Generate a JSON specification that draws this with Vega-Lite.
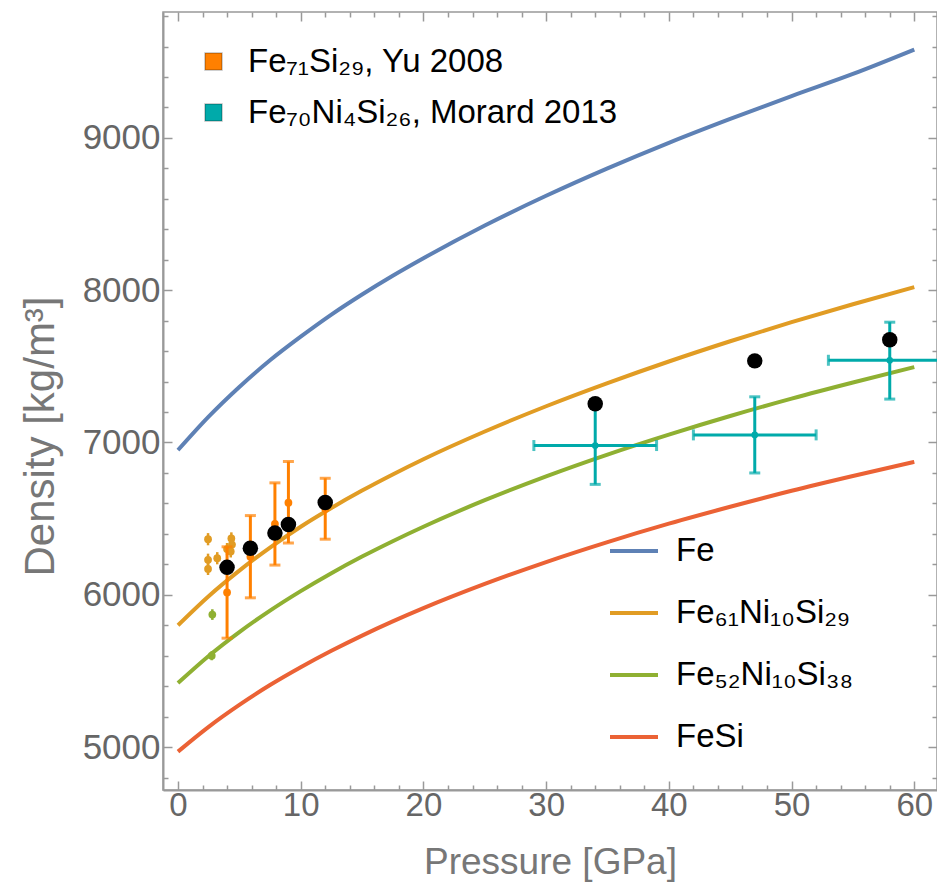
{
  "$schema": "https://vega.github.io/schema/vega-lite/v6.json",
  "width": 774,
  "height": 778,
  "autosize": "none",
  "padding": {"left": 163, "top": 12, "right": 0, "bottom": 93},
  "background": "white",
  "config": {
    "view": {"stroke": "#999999", "strokeWidth": 1.5},
    "font": "Liberation Sans"
  },
  "datasets": {
    "curves": [
      {"comp": "Fe", "P": 0, "rho": 6950}, {"comp": "Fe", "P": 2.5, "rho": 7170}, {"comp": "Fe", "P": 5, "rho": 7365}, {"comp": "Fe", "P": 7.5, "rho": 7540}, {"comp": "Fe", "P": 10, "rho": 7695}, {"comp": "Fe", "P": 12.5, "rho": 7840}, {"comp": "Fe", "P": 15, "rho": 7972}, {"comp": "Fe", "P": 17.5, "rho": 8095}, {"comp": "Fe", "P": 20, "rho": 8210}, {"comp": "Fe", "P": 25, "rho": 8425}, {"comp": "Fe", "P": 30, "rho": 8620}, {"comp": "Fe", "P": 35, "rho": 8800}, {"comp": "Fe", "P": 40, "rho": 8968}, {"comp": "Fe", "P": 45, "rho": 9125}, {"comp": "Fe", "P": 50, "rho": 9275}, {"comp": "Fe", "P": 55, "rho": 9420}, {"comp": "Fe", "P": 60, "rho": 9580},
      {"comp": "Fe₆₁Ni₁₀Si₂₉", "P": 0, "rho": 5800}, {"comp": "Fe₆₁Ni₁₀Si₂₉", "P": 2.5, "rho": 5991}, {"comp": "Fe₆₁Ni₁₀Si₂₉", "P": 5, "rho": 6159}, {"comp": "Fe₆₁Ni₁₀Si₂₉", "P": 7.5, "rho": 6310}, {"comp": "Fe₆₁Ni₁₀Si₂₉", "P": 10, "rho": 6447}, {"comp": "Fe₆₁Ni₁₀Si₂₉", "P": 12.5, "rho": 6570}, {"comp": "Fe₆₁Ni₁₀Si₂₉", "P": 15, "rho": 6684}, {"comp": "Fe₆₁Ni₁₀Si₂₉", "P": 17.5, "rho": 6790}, {"comp": "Fe₆₁Ni₁₀Si₂₉", "P": 20, "rho": 6890}, {"comp": "Fe₆₁Ni₁₀Si₂₉", "P": 25, "rho": 7072}, {"comp": "Fe₆₁Ni₁₀Si₂₉", "P": 30, "rho": 7238}, {"comp": "Fe₆₁Ni₁₀Si₂₉", "P": 35, "rho": 7390}, {"comp": "Fe₆₁Ni₁₀Si₂₉", "P": 40, "rho": 7532}, {"comp": "Fe₆₁Ni₁₀Si₂₉", "P": 45, "rho": 7665}, {"comp": "Fe₆₁Ni₁₀Si₂₉", "P": 50, "rho": 7790}, {"comp": "Fe₆₁Ni₁₀Si₂₉", "P": 55, "rho": 7908}, {"comp": "Fe₆₁Ni₁₀Si₂₉", "P": 60, "rho": 8020},
      {"comp": "Fe₅₂Ni₁₀Si₃₈", "P": 0, "rho": 5420}, {"comp": "Fe₅₂Ni₁₀Si₃₈", "P": 2.5, "rho": 5598}, {"comp": "Fe₅₂Ni₁₀Si₃₈", "P": 5, "rho": 5755}, {"comp": "Fe₅₂Ni₁₀Si₃₈", "P": 7.5, "rho": 5896}, {"comp": "Fe₅₂Ni₁₀Si₃₈", "P": 10, "rho": 6024}, {"comp": "Fe₅₂Ni₁₀Si₃₈", "P": 12.5, "rho": 6142}, {"comp": "Fe₅₂Ni₁₀Si₃₈", "P": 15, "rho": 6251}, {"comp": "Fe₅₂Ni₁₀Si₃₈", "P": 17.5, "rho": 6352}, {"comp": "Fe₅₂Ni₁₀Si₃₈", "P": 20, "rho": 6447}, {"comp": "Fe₅₂Ni₁₀Si₃₈", "P": 25, "rho": 6621}, {"comp": "Fe₅₂Ni₁₀Si₃₈", "P": 30, "rho": 6778}, {"comp": "Fe₅₂Ni₁₀Si₃₈", "P": 35, "rho": 6921}, {"comp": "Fe₅₂Ni₁₀Si₃₈", "P": 40, "rho": 7052}, {"comp": "Fe₅₂Ni₁₀Si₃₈", "P": 45, "rho": 7174}, {"comp": "Fe₅₂Ni₁₀Si₃₈", "P": 50, "rho": 7288}, {"comp": "Fe₅₂Ni₁₀Si₃₈", "P": 55, "rho": 7394}, {"comp": "Fe₅₂Ni₁₀Si₃₈", "P": 60, "rho": 7495},
      {"comp": "FeSi", "P": 0, "rho": 4970}, {"comp": "FeSi", "P": 2.5, "rho": 5133}, {"comp": "FeSi", "P": 5, "rho": 5277}, {"comp": "FeSi", "P": 7.5, "rho": 5407}, {"comp": "FeSi", "P": 10, "rho": 5524}, {"comp": "FeSi", "P": 12.5, "rho": 5632}, {"comp": "FeSi", "P": 15, "rho": 5732}, {"comp": "FeSi", "P": 17.5, "rho": 5825}, {"comp": "FeSi", "P": 20, "rho": 5912}, {"comp": "FeSi", "P": 25, "rho": 6071}, {"comp": "FeSi", "P": 30, "rho": 6215}, {"comp": "FeSi", "P": 35, "rho": 6346}, {"comp": "FeSi", "P": 40, "rho": 6467}, {"comp": "FeSi", "P": 45, "rho": 6578}, {"comp": "FeSi", "P": 50, "rho": 6683}, {"comp": "FeSi", "P": 55, "rho": 6780}, {"comp": "FeSi", "P": 60, "rho": 6873}
    ],
    "small": [
      {"comp": "Fe₆₁Ni₁₀Si₂₉", "P": 2.45, "rho": 6365, "lo": 6325, "hi": 6405},
      {"comp": "Fe₆₁Ni₁₀Si₂₉", "P": 2.45, "rho": 6230, "lo": 6190, "hi": 6270},
      {"comp": "Fe₆₁Ni₁₀Si₂₉", "P": 2.45, "rho": 6170, "lo": 6130, "hi": 6210},
      {"comp": "Fe₆₁Ni₁₀Si₂₉", "P": 3.2, "rho": 6240, "lo": 6200, "hi": 6280},
      {"comp": "Fe₆₁Ni₁₀Si₂₉", "P": 4.0, "rho": 6300, "lo": 6260, "hi": 6340},
      {"comp": "Fe₆₁Ni₁₀Si₂₉", "P": 4.35, "rho": 6370, "lo": 6330, "hi": 6410},
      {"comp": "Fe₆₁Ni₁₀Si₂₉", "P": 4.4, "rho": 6330, "lo": 6290, "hi": 6370},
      {"comp": "Fe₆₁Ni₁₀Si₂₉", "P": 4.3, "rho": 6285, "lo": 6245, "hi": 6325},
      {"comp": "Fe₅₂Ni₁₀Si₃₈", "P": 2.8, "rho": 5870, "lo": 5835, "hi": 5905},
      {"comp": "Fe₅₂Ni₁₀Si₃₈", "P": 2.75, "rho": 5600, "lo": 5570, "hi": 5630}
    ],
    "yu": [
      {"src": "Fe₇₁Si₂₉, Yu 2008", "P": 4, "rho": 6015, "lo": 5715, "hi": 6315},
      {"src": "Fe₇₁Si₂₉, Yu 2008", "P": 5.9, "rho": 6250, "lo": 5980, "hi": 6520},
      {"src": "Fe₇₁Si₂₉, Yu 2008", "P": 7.9, "rho": 6465, "lo": 6195, "hi": 6735},
      {"src": "Fe₇₁Si₂₉, Yu 2008", "P": 9, "rho": 6605, "lo": 6340, "hi": 6875},
      {"src": "Fe₇₁Si₂₉, Yu 2008", "P": 12, "rho": 6565, "lo": 6365, "hi": 6765}
    ],
    "morard": [
      {"src": "Fe₇₀Ni₄Si₂₆, Morard 2013", "P": 34, "Plo": 29, "Phi": 39, "rho": 6980, "lo": 6725, "hi": 7235},
      {"src": "Fe₇₀Ni₄Si₂₆, Morard 2013", "P": 47, "Plo": 42, "Phi": 52, "rho": 7050, "lo": 6800, "hi": 7300},
      {"src": "Fe₇₀Ni₄Si₂₆, Morard 2013", "P": 58, "Plo": 53, "Phi": 63, "rho": 7540, "lo": 7285, "hi": 7790}
    ],
    "black": [
      {"P": 4, "rho": 6180}, {"P": 5.9, "rho": 6305}, {"P": 7.9, "rho": 6405}, {"P": 9, "rho": 6462}, {"P": 12, "rho": 6606},
      {"P": 34, "rho": 7254}, {"P": 47, "rho": 7536}, {"P": 58, "rho": 7675}
    ]
  },
  "resolve": {"axis": {"x": "independent", "y": "independent"}},
  "layer": [
    {
      "data": {"name": "curves"},
      "mark": {"type": "line", "strokeWidth": 4, "interpolate": "monotone", "clip": true},
      "encoding": {
        "x": {"field": "P", "type": "quantitative",
          "scale": {"domain": [-1.22, 61.85], "nice": false, "zero": false},
          "axis": {"orient": "bottom", "values": [0,2,4,6,8,10,12,14,16,18,20,22,24,26,28,30,32,34,36,38,40,42,44,46,48,50,52,54,56,58,60],
            "tickSize": {"expr": "datum.value % 10 === 0 ? -9 : -5"},
            "labelExpr": "datum.value % 10 === 0 ? datum.label : ''",
            "labelOverlap": false, "labelFlush": false, "labelBound": false,
            "labelFont": "Liberation Sans", "labelFontSize": 33, "labelColor": "#666666", "labelPadding": 8,
            "domainColor": "#999999", "domainWidth": 2, "tickColor": "#999999", "tickWidth": 1.5,
            "grid": false,
            "title": "Pressure [GPa]", "titleFont": "Liberation Sans", "titleFontSize": 37, "titleFontWeight": "normal", "titleColor": "#777777",
            "titleY": 72, "titleBaseline": "middle"}},
        "y": {"field": "rho", "type": "quantitative",
          "scale": {"domain": [4718, 9827], "nice": false, "zero": false},
          "axis": {"orient": "left", "values": [4800,5000,5200,5400,5600,5800,6000,6200,6400,6600,6800,7000,7200,7400,7600,7800,8000,8200,8400,8600,8800,9000,9200,9400,9600,9800],
            "format": "d",
            "tickSize": {"expr": "datum.value % 1000 === 0 ? -9 : -5"},
            "labelExpr": "datum.value % 1000 === 0 ? datum.label : ''",
            "labelOverlap": false, "labelFlush": false, "labelBound": false,
            "labelFont": "Liberation Sans", "labelFontSize": 35, "labelColor": "#666666", "labelPadding": 12,
            "domainColor": "#999999", "domainWidth": 2, "tickColor": "#999999", "tickWidth": 1.5,
            "grid": false,
            "title": "Density  [kg/m³]", "titleFont": "Liberation Sans", "titleFontSize": 42, "titleFontWeight": "normal", "titleColor": "#777777",
            "titleX": -123, "titleY": 424, "titleBaseline": "middle", "titleAlign": "center"}},
        "color": {"field": "comp", "type": "nominal",
          "scale": {"domain": ["Fe", "Fe₆₁Ni₁₀Si₂₉", "Fe₅₂Ni₁₀Si₃₈", "FeSi"], "range": ["#5E81B5", "#E19C24", "#8FB032", "#EB6235"]},
          "legend": {"orient": "none", "legendX": 445, "legendY": 513, "title": null,
            "symbolType": "stroke", "symbolSize": 2304, "symbolStrokeWidth": 4,
            "labelFont": "Liberation Sans", "labelFontSize": 33, "labelColor": "#000000", "labelOffset": 16,
            "rowPadding": 19, "labelLimit": 400}}
      }
    },
    {
      "data": {"name": "small"},
      "mark": {"type": "rule", "strokeWidth": 2.5},
      "encoding": {
        "x": {"field": "P", "type": "quantitative", "axis": null},
        "y": {"field": "lo", "type": "quantitative", "axis": null},
        "y2": {"field": "hi"},
        "color": {"field": "comp", "type": "nominal", "legend": null}
      }
    },
    {
      "data": {"name": "small"},
      "mark": {"type": "circle", "size": 60, "opacity": 1},
      "encoding": {
        "x": {"field": "P", "type": "quantitative", "axis": null},
        "y": {"field": "rho", "type": "quantitative", "axis": null},
        "color": {"field": "comp", "type": "nominal", "legend": null}
      }
    },
    {
      "data": {"name": "yu"},
      "mark": {"type": "errorbar", "color": "#FF8000", "thickness": 3, "ticks": {"size": 11, "thickness": 3}},
      "encoding": {
        "x": {"field": "P", "type": "quantitative", "axis": null},
        "y": {"field": "lo", "type": "quantitative", "axis": null},
        "y2": {"field": "hi"}
      }
    },
    {
      "data": {"name": "morard"},
      "mark": {"type": "errorbar", "color": "#00AAAA", "thickness": 3, "ticks": {"size": 11, "thickness": 3}},
      "encoding": {
        "x": {"field": "P", "type": "quantitative", "axis": null},
        "y": {"field": "lo", "type": "quantitative", "axis": null},
        "y2": {"field": "hi"}
      }
    },
    {
      "data": {"name": "morard"},
      "mark": {"type": "errorbar", "color": "#00AAAA", "thickness": 3, "ticks": {"size": 11, "thickness": 3}, "clip": true},
      "encoding": {
        "y": {"field": "rho", "type": "quantitative", "axis": null},
        "x": {"field": "Plo", "type": "quantitative", "axis": null},
        "x2": {"field": "Phi"}
      }
    },
    {
      "data": {"name": "yu"},
      "mark": {"type": "circle", "size": 60, "opacity": 1},
      "encoding": {
        "x": {"field": "P", "type": "quantitative", "axis": null},
        "y": {"field": "rho", "type": "quantitative", "axis": null},
        "fill": {"field": "src", "type": "nominal",
          "scale": {"domain": ["Fe₇₁Si₂₉, Yu 2008", "Fe₇₀Ni₄Si₂₆, Morard 2013"], "range": ["#FF8000", "#00AAAA"]},
          "legend": {"orient": "none", "legendX": 34, "legendY": 33, "title": null,
            "symbolType": "square", "symbolSize": 289, "symbolStrokeWidth": 1.5, "symbolStrokeColor": "rgba(0,0,0,0.25)", "symbolOpacity": 1,
            "labelFont": "Liberation Sans", "labelFontSize": 33, "labelColor": "#000000", "labelOffset": 18,
            "rowPadding": 17, "labelLimit": 500}}
      }
    },
    {
      "data": {"name": "morard"},
      "mark": {"type": "circle", "size": 45, "opacity": 1},
      "encoding": {
        "x": {"field": "P", "type": "quantitative", "axis": null},
        "y": {"field": "rho", "type": "quantitative", "axis": null},
        "fill": {"field": "src", "type": "nominal"}
      }
    },
    {
      "data": {"name": "black"},
      "mark": {"type": "circle", "size": 240, "color": "#000000", "opacity": 1},
      "encoding": {
        "x": {"field": "P", "type": "quantitative",
          "axis": {"orient": "top", "values": [0,2,4,6,8,10,12,14,16,18,20,22,24,26,28,30,32,34,36,38,40,42,44,46,48,50,52,54,56,58,60],
            "tickSize": {"expr": "datum.value % 10 === 0 ? -9 : -5"},
            "labels": false, "domain": false, "grid": false, "title": null,
            "tickColor": "#999999", "tickWidth": 1.5}},
        "y": {"field": "rho", "type": "quantitative",
          "axis": {"orient": "right", "values": [4800,5000,5200,5400,5600,5800,6000,6200,6400,6600,6800,7000,7200,7400,7600,7800,8000,8200,8400,8600,8800,9000,9200,9400,9600,9800],
            "tickSize": {"expr": "datum.value % 1000 === 0 ? -9 : -5"},
            "labels": false, "domain": false, "grid": false, "title": null,
            "tickColor": "#999999", "tickWidth": 1.5}}
      }
    }
  ]
}
